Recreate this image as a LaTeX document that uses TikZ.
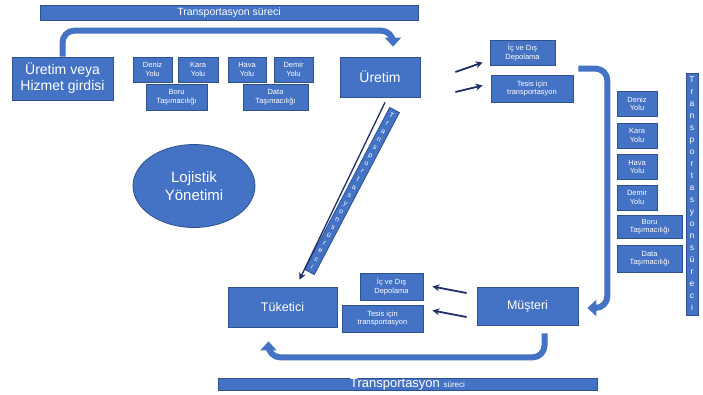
\documentclass[tikz,border=0pt]{standalone}
\usepackage{fontspec}
\setmainfont{Liberation Sans}
\usetikzlibrary{arrows.meta,shapes,positioning}
\definecolor{mavi}{RGB}{68,114,196}
\definecolor{kenar}{RGB}{47,82,143}
\definecolor{lacivert}{RGB}{31,46,100}
\tikzset{
	kutu/.style={draw=kenar,fill=mavi,text=white,align=center,inner sep=1pt,line width=0.8pt},
	kucuk/.style={kutu,minimum height=25pt,font=\fontsize{7.5}{8.5}\selectfont},
	bant/.style={kutu,font=\fontsize{10.5}{11}\selectfont},
	harfler/.style={kutu,font=\fontsize{8.5}{12}\selectfont,inner sep=0pt},
	kalin/.style={draw=mavi,line width=6pt,rounded corners=12pt,-{Triangle[width=16pt,length=9pt]}},
	ince/.style={draw=lacivert,line width=1.8pt,-{Stealth[width=7pt,length=7pt]}}
}
\begin{document}
\begin{tikzpicture}[x=1pt,y=-1pt]
	\useasboundingbox (0,0) rectangle (703,394);
	\node[bant,minimum width=378pt,minimum height=15pt] (ustbant) at (229,12.5) {Transportasyon süreci};
	\node[kutu,minimum width=101pt,minimum height=43pt,font=\fontsize{14}{16}\selectfont] (girdi) at (62.5,78.5) {Üretim veya\\Hizmet girdisi};
	\node[kucuk,minimum width=39pt] (deniz1) at (152.5,69.5) {Deniz\\Yolu};
	\node[kucuk,minimum width=40pt] (kara1) at (198,69.5) {Kara\\Yolu};
	\node[kucuk,minimum width=61pt,minimum height=26pt] (boru1) at (176.5,97) {Boru\\Taşımacılığı};
	\node[kucuk,minimum width=38pt] (hava1) at (247,69.5) {Hava\\Yolu};
	\node[kucuk,minimum width=39pt] (demir1) at (293.5,69.5) {Demir\\Yolu};
	\node[kucuk,minimum width=65pt,minimum height=26pt] (data1) at (275.5,97) {Data\\Taşımacılığı};
	\node[kutu,minimum width=80pt,minimum height=40pt,font=\fontsize{14}{16}\selectfont] (uretim) at (380,77) {Üretim};
	\node[kucuk,minimum width=65pt] (depo1) at (522.5,52.5) {İç ve Dış\\Depolama};
	\node[kucuk,minimum width=82pt,minimum height=27pt] (tesis1) at (532,88.5) {Tesis için\\transportasyon};
	\node[kucuk,minimum width=40pt] (deniz2) at (637,104) {Deniz\\Yolu};
	\node[kucuk,minimum width=40pt] (kara2) at (637,135.5) {Kara\\Yolu};
	\node[kucuk,minimum width=40pt] (hava2) at (637,167) {Hava\\Yolu};
	\node[kucuk,minimum width=40pt] (demir2) at (637,197.5) {Demir\\Yolu};
	\node[kucuk,minimum width=65pt,minimum height=23pt] (boru2) at (649.5,226.5) {Boru\\Taşımacılığı};
	\node[kucuk,minimum width=65pt,minimum height=27pt] (data2) at (649.5,258.5) {Data\\Taşımacılığı};
	\node[harfler,minimum width=12pt,minimum height=242pt] (sagbant) at (692,194) {T\\r\\a\\n\\s\\p\\o\\r\\t\\a\\s\\y\\o\\n\\s\\ü\\r\\e\\c\\i};
	\node[kutu,ellipse,minimum width=122pt,minimum height=83pt,font=\fontsize{15}{18}\selectfont] (lojistik) at (194,186) {Lojistik\\Yönetimi};
	\node[harfler,minimum width=11pt,minimum height=183pt,rotate=-27.7,font=\fontsize{7}{9}\selectfont] (capraz) at (352,191) {T\\r\\a\\n\\s\\p\\o\\r\\t\\a\\s\\y\\o\\n\\s\\ü\\r\\e\\c\\i};
	\node[kutu,minimum width=109pt,minimum height=40pt,font=\fontsize{12.5}{14}\selectfont] (tuketici) at (282.5,307) {Tüketici};
	\node[kucuk,minimum width=63pt,minimum height=27pt] (depo2) at (391.5,286.5) {İç ve Dış\\Depolama};
	\node[kucuk,minimum width=81pt,minimum height=27pt] (tesis2) at (382.5,318.5) {Tesis için\\transportasyon};
	\node[kutu,minimum width=101pt,minimum height=38pt,font=\fontsize{12.5}{14}\selectfont] (musteri) at (527.5,306) {Müşteri};
	\node[bant,minimum width=379pt,minimum height=12pt,inner sep=0pt] (altbant) at (407.5,384) {\fontsize{13}{12}\selectfont Transportasyon \fontsize{8}{8}\selectfont süreci};
	\draw[kalin] (girdi.north) -- ++(0,-26) -| ([xshift=13pt,yshift=10pt]uretim.north);
	\draw[kalin] ([xshift=5pt,yshift=6pt]tesis1.north east) -- ++(29,0) |- ([xshift=9pt,yshift=-2pt]musteri.east);
	\draw[kalin] ([xshift=17pt,yshift=-8pt]musteri.south) -- ++(0,24) -| ([xshift=-14pt,yshift=-14pt]tuketici.south);
	\draw[ince] ([xshift=35pt,yshift=5pt]uretim.east) -- ([xshift=-7pt,yshift=-10pt]depo1.west);
	\draw[ince] ([xshift=35pt,yshift=-15pt]uretim.east) -- ([xshift=-8pt,yshift=3pt]tesis1.west);
	\draw[ince] ([xshift=-10pt,yshift=13pt]musteri.west) -- ([xshift=9pt]depo2.east);
	\draw[ince] ([xshift=-10pt,yshift=-11pt]musteri.west) -- ([xshift=9pt,yshift=8pt]tesis2.east);
	\draw[ince,line width=1.3pt] ([xshift=5pt,yshift=-5pt]uretim.south) -- ([xshift=17pt,yshift=7pt]tuketici.north);
\end{tikzpicture}
\end{document}
